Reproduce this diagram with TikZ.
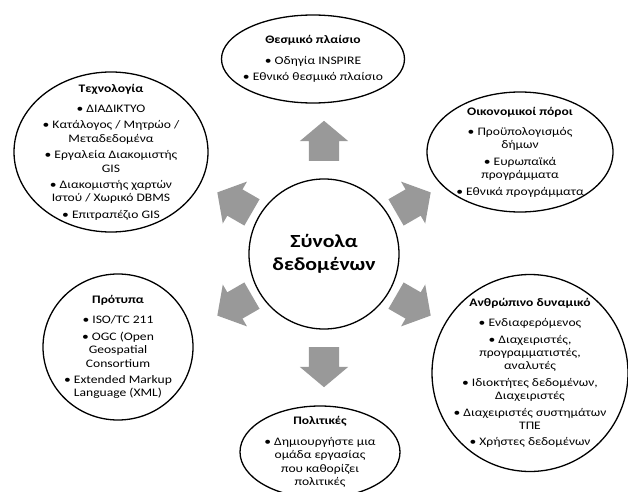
\documentclass[tikz,border=0pt]{standalone}
\usepackage{fontspec}
\setmainfont{Carlito}[FakeStretch=1.18]
\usepackage{xcolor}
\usetikzlibrary{shapes.geometric, shapes.arrows, positioning, calc}

\definecolor{arrowgray}{RGB}{153,153,153}

\begin{document}
\begin{tikzpicture}[
  x=1pt, y=1pt,
  font=\fontsize{11.5}{13.4}\selectfont,
  align=center,
  oval/.style={ellipse, draw=black, line width=1.3pt, inner sep=-30pt},
  hub/.style={circle, draw=black, line width=1.3pt, minimum size=150pt,
              inner sep=0pt, font=\fontsize{18.5}{23}\selectfont\bfseries},
  blockarrow/.style={single arrow, fill=arrowgray, draw=none,
              minimum height=40pt, inner xsep=0pt, inner ysep=15pt,
              single arrow head extend=9pt, single arrow tip angle=100,
              anchor=tail},
]

\useasboundingbox (0,0) rectangle (628,491);

\node[hub] (data) at (324,237) {Σύνολα\\δεδομένων};

\node[oval, minimum width=183pt, minimum height=88pt] (legal) at (313,432)
  {\textbf{Θεσμικό πλαίσιο}\\[7pt]
   • Οδηγία INSPIRE\\[3pt]
   • Εθνικό θεσμικό πλαίσιο};
\node[oval, minimum width=186pt, minimum height=120pt] (finance) at (520,339)
  {\textbf{Οικονομικοί πόροι}\\[7pt]
   • Προϋπολογισμός\\δήμων\\[3pt]
   • Ευρωπαϊκά\\προγράμματα\\[3pt]
   • Εθνικά προγράμματα};
\node[oval, minimum width=194pt, minimum height=160pt] (tech) at (111,339)
  {\textbf{Τεχνολογία}\\[7pt]
   • ΔΙΑΔΙΚΤΥΟ\\[3pt]
   • Κατάλογος / Μητρώο /\\Μεταδεδομένα\\[3pt]
   • Εργαλεία Διακομιστής\\GIS\\[3pt]
   • Διακομιστής χαρτών\\Ιστού / Χωρικό DBMS\\[3pt]
   • Επιτραπέζιο GIS};
\node[oval, minimum width=150pt, minimum height=146pt] (standards) at (118,144)
  {\textbf{Πρότυπα}\\[7pt]
   • ISO/TC 211\\[3pt]
   • OGC (Open\\Geospatial\\Consortium\\[3pt]
   • Extended Markup\\Language (XML)};
\node[oval, minimum width=196pt, minimum height=197pt] (people) at (530,118)
  {\textbf{Ανθρώπινο δυναμικό}\\[7pt]
   • Ενδιαφερόμενος\\[3pt]
   • Διαχειριστές,\\προγραμματιστές,\\αναλυτές\\[3pt]
   • Ιδιοκτήτες δεδομένων,\\Διαχειριστές\\[3pt]
   • Διαχειριστές συστημάτων\\ΤΠΕ\\[3pt]
   • Χρήστες δεδομένων};
\node[oval, minimum width=160pt, minimum height=92pt] (policy) at (320,39)
  {\textbf{Πολιτικές}\\[7pt]
   • Δημιουργήστε μια\\ομάδα εργασίας\\που καθορίζει\\πολιτικές};

% block arrows round the hub
\node[blockarrow, rotate=90]  (toLegal)     at ($(data)+(90:93pt)$)  {};
\node[blockarrow, rotate=30]  (toFinance)   at ($(data)+(30:83pt)$)  {};
\node[blockarrow, rotate=-30] (toPeople)    at ($(data)+(-30:83pt)$) {};
\node[blockarrow, rotate=-90] (toPolicy)    at ($(data)+(-90:93pt)$) {};
\node[blockarrow, rotate=210] (toStandards) at ($(data)+(210:83pt)$) {};
\node[blockarrow, rotate=150] (toTech)      at ($(data)+(150:83pt)$) {};

\end{tikzpicture}
\end{document}
